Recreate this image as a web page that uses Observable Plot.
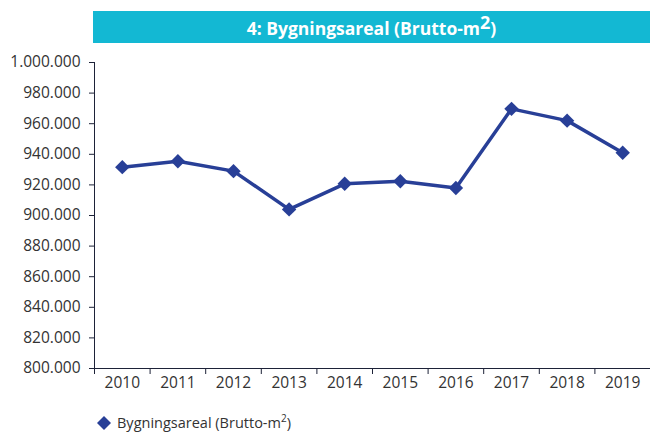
<!DOCTYPE html>
<html>
<head>
<meta charset="utf-8">
<script src="https://cdn.jsdelivr.net/npm/d3@7"></script>
<script src="https://cdn.jsdelivr.net/npm/@observablehq/plot@0.6"></script>
<style>
  html, body { margin: 0; padding: 0; background: #fff; }
  body { width: 650px; height: 432px; overflow: hidden; font-family: "Open Sans", sans-serif; }
  #banner { margin: 11px 0 0 93px; width: 557px; height: 32px; background: #13b8d3; color: #fff;
    font-weight: bold; font-size: 17.5px; line-height: 34px; text-align: center; }
  #banner .sup { font-size: 18px; position: relative; top: -6px; }
  #chart svg { display: block; }
  #legend { margin: 10px 0 0 96px; font-size: 14.5px; color: #333; height: 20px; line-height: 20px; display: flex; align-items: center; }
  #legend .sup { font-size: 10px; position: relative; top: -6px; }
</style>
</head>
<body>
<div id="banner"></div>
<div id="chart"></div>
<div id="legend"></div>
<script>
const years = [2010, 2011, 2012, 2013, 2014, 2015, 2016, 2017, 2018, 2019];
const areal = [931600, 935500, 929000, 904000, 920700, 922400, 918000, 969700, 962000, 941000];
const yTicks = [800000, 820000, 840000, 860000, 880000, 900000, 920000, 940000, 960000, 980000, 1000000];
const seriesName = "Bygningsareal (Brutto-m";
const titleText = "4: Bygningsareal (Brutto-m";

const data = years.map((y, i) => ({year: y, value: areal[i]}));
const bounds = years.map(y => y - 0.5).concat([years[years.length - 1] + 0.5]);
const fmt = d => d3.format(",")(d).replace(/,/g, ".");
const lineColor = "#283f97";
const axisColor = "#1d2238";

document.getElementById("banner").innerHTML = titleText + '<span class="sup">2</span>)';
document.getElementById("legend").innerHTML =
  '<svg width="16" height="16" style="margin-right:5px"><path d="M8,1L15,8L8,15L1,8Z" fill="' + lineColor + '"/></svg>' +
  '<span>' + seriesName + '<span class="sup">2</span>)</span>';

const chart = Plot.plot({
  width: 650,
  height: 360,
  marginLeft: 94,
  marginRight: 0,
  marginTop: 19,
  marginBottom: 35,
  style: {fontFamily: "Open Sans, sans-serif", fontSize: "15.5px", color: "#333", background: "#fff"},
  x: {type: "linear", domain: [bounds[0], bounds[bounds.length - 1]], axis: null},
  y: {domain: [800000, 1000000], axis: null},
  marks: [
    Plot.axisY({ticks: yTicks, tickFormat: fmt, tickSize: 5, tickPadding: 9, stroke: axisColor, fill: "#333", fontSize: 15.5, label: null}),
    Plot.axisX({ticks: bounds, tickFormat: () => "", tickSize: 6, stroke: axisColor, label: null}),
    Plot.axisX({ticks: years, tickFormat: d => String(d), tickSize: 0, tickPadding: 8, fill: "#333", fontSize: 15.5, label: null}),
    Plot.ruleX([bounds[0]], {stroke: axisColor, strokeWidth: 1}),
    Plot.ruleY([800000], {stroke: axisColor, strokeWidth: 1}),
    Plot.line(data, {x: "year", y: "value", stroke: lineColor, strokeWidth: 3.5, strokeLinejoin: "miter"}),
    Plot.dot(data, {x: "year", y: "value", symbol: "diamond2", r: 6.5, fill: lineColor, stroke: "none"})
  ]
});
document.getElementById("chart").appendChild(chart);
</script>
</body>
</html>
